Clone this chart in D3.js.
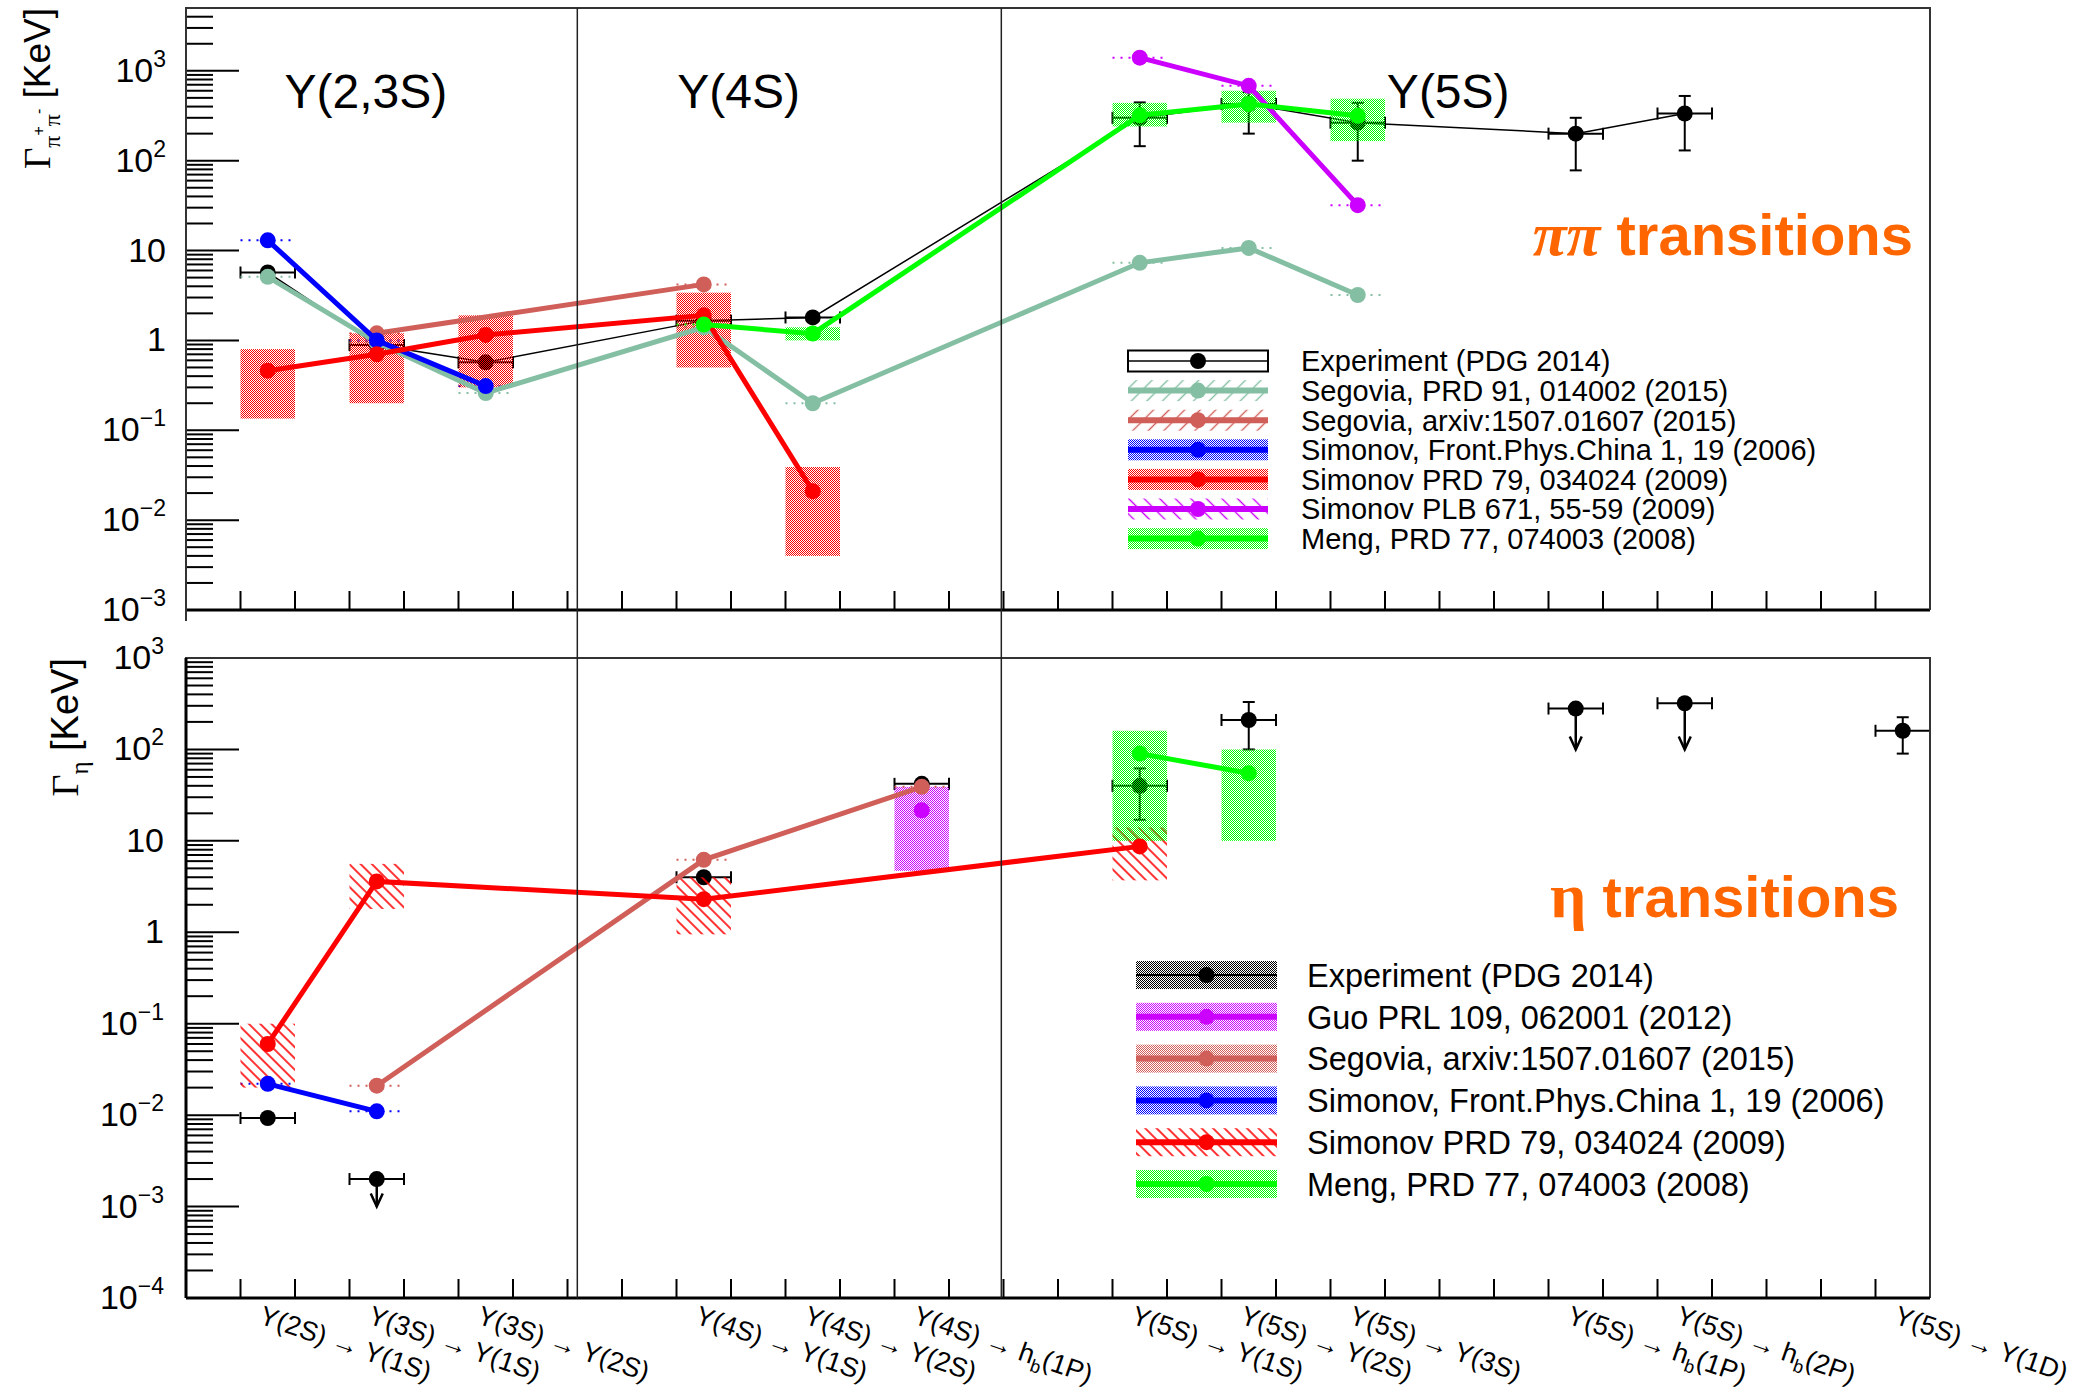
<!DOCTYPE html>
<html>
<head>
<meta charset="utf-8">
<script src="https://cdn.jsdelivr.net/npm/d3@7"></script>
<style>
  body { margin: 0; background: #fff; }
  text { font-family: "Liberation Sans", Arial, Helvetica, sans-serif; }
</style>
</head>
<body>
<svg id="chart" width="2084" height="1391"></svg>
<script>
// ---- data ----
// bin index of every transition on the x axis
const catPos  = [0, 1, 2, 4, 5, 6, 8, 9, 10, 12, 13, 15];
const catFrom = ["Y(2S)", "Y(3S)", "Y(3S)", "Y(4S)", "Y(4S)", "Y(4S)", "Y(5S)", "Y(5S)", "Y(5S)", "Y(5S)", "Y(5S)", "Y(5S)"];
const catTo   = ["Y(1S)", "Y(1S)", "Y(2S)", "Y(1S)", "Y(2S)", "h_b(1P)", "Y(1S)", "Y(2S)", "Y(3S)", "h_b(1P)", "h_b(2P)", "Y(1D)"];
const groupNames = ["Y(2,3S)", "Y(4S)", "Y(5S)"];

// [bin, value, low, high]  (keV)
const expPP = [[0, 5.7, 5.5, 5.9], [1, 0.89, 0.85, 0.93], [2, 0.57, 0.53, 0.61], [4, 1.66, 1.5, 1.8],
  [5, 1.8, 1.7, 1.9], [8, 300, 145, 445], [9, 426, 200, 580], [10, 265, 100, 440],
  [12, 200, 78, 300], [13, 335, 130, 525]];
const segoviaPRD_pp = [[0, 5.1], [1, 0.95], [2, 0.26], [4, 1.4], [5, 0.2], [8, 7.3], [9, 10.7], [10, 3.2]];
const segoviaArx_pp = [[1, 1.2], [4, 4.2]];
const simonovFP_pp  = [[0, 13], [1, 1.0], [2, 0.31]];
const simonovPRD_pp = [[0, 0.46, 0.135, 0.8], [1, 0.7, 0.2, 1.2], [2, 1.15, 0.3, 1.9], [4, 1.9, 0.5, 3.4], [5, 0.021, 0.004, 0.039]];
const simonovPLB_pp = [[8, 1400], [9, 680], [10, 32]];
const meng_pp       = [[4, 1.5], [5, 1.19, 1.0, 1.4], [8, 320, 240, 440], [9, 427, 265, 600], [10, 316, 165, 490]];

const expEta       = [[0, 0.0093, 0.0085, 0.0101], [4, 4.0, 3.5, 4.6], [6, 42, 40, 44], [8, 40, 17, 62], [9, 210, 100, 330], [15, 160, 90, 225]];
const expEtaLimits = [[1, 0.002, 0.001], [12, 280, 100], [13, 320, 100]]; // [bin, upper limit, arrow tip]
const guo_eta        = [[6, 21.6, 4.7, 39]];
const segoviaArx_eta = [[1, 0.021], [4, 6.2], [6, 39]];
const simonovFP_eta  = [[0, 0.022], [1, 0.011]];
const simonovPRD_eta = [[0, 0.06, 0.02, 0.1], [1, 3.6, 1.8, 5.6], [4, 2.3, 0.95, 4.0], [8, 8.7, 3.7, 14]];
const meng_eta       = [[8, 90, 10, 160], [9, 55, 10, 100]];

// ---- layout ----
const X0 = 186, X1 = 1930;
const TOP = { y0: 8, y1: 610 }, BOT = { y0: 658, y1: 1298 };
const separators = [2.84, 6.73];
const groupAt = [0.9, 4.32, 10.83];

const teal = "#85bfa3", ired = "#d05f5a", blue = "#0000ff", red = "#ff0000", mag = "#cc00ff", green = "#00ff00";
const serif = '"Liberation Serif", "Times New Roman", serif';

const x = d3.scaleLinear().domain([-0.75, 15.25]).range([X0, X1]);
const yTop = d3.scaleLog().domain([1e-3, 5e3]).range([TOP.y1, TOP.y0]);
const yBot = d3.scaleLog().domain([1e-4, 1e3]).range([BOT.y1, BOT.y0]);

const svg = d3.select('#chart');
const defs = svg.append('defs');

function dots(id, color) {
  const p = defs.append('pattern').attr('id', id).attr('patternUnits', 'userSpaceOnUse')
    .attr('width', 2).attr('height', 2);
  p.append('rect').attr('x', 0).attr('y', 0).attr('width', 1).attr('height', 1).attr('fill', color);
  p.append('rect').attr('x', 1).attr('y', 1).attr('width', 1).attr('height', 1).attr('fill', color);
}
function hatch(id, color, angle, gap, w) {
  const p = defs.append('pattern').attr('id', id).attr('patternUnits', 'userSpaceOnUse')
    .attr('width', gap).attr('height', gap).attr('patternTransform', `rotate(${angle})`);
  p.append('line').attr('x1', gap / 2).attr('x2', gap / 2).attr('y1', 0).attr('y2', gap)
    .attr('stroke', color).attr('stroke-width', w);
}
dots('dRed', red); dots('dGreen', green); dots('dMag', mag); dots('dBlue', blue); dots('dIred', ired); dots('dBlack', '#000');
hatch('hTeal', teal, 45, 11, 1.4); hatch('hIred', ired, 45, 11, 1.4); hatch('hMag', mag, -45, 11, 1.4); hatch('hRed', red, -45, 8, 1.6);

defs.append('clipPath').attr('id', 'clipTop').append('rect')
  .attr('x', X0).attr('y', TOP.y0).attr('width', X1 - X0).attr('height', TOP.y1 - TOP.y0);
defs.append('clipPath').attr('id', 'clipBot').append('rect')
  .attr('x', X0).attr('y', BOT.y0).attr('width', X1 - X0).attr('height', BOT.y1 - BOT.y0);
defs.append('clipPath').attr('id', 'padTop').append('rect')
  .attr('x', 0).attr('y', 0).attr('width', 2084).attr('height', 621);

// ---- helpers ----
function yAxis(g, y, labelX) {
  const [a, b] = y.domain();
  const majors = [], minors = [];
  for (let e = Math.floor(Math.log10(a)); e <= Math.ceil(Math.log10(b)); e++) {
    for (let m = 1; m <= 9; m++) {
      const v = m * Math.pow(10, e);
      if (v < a * 0.999 || v > b * 1.001) continue;
      (m === 1 ? majors : minors).push(v);
    }
  }
  g.selectAll(null).data(minors).enter().append('line')
    .attr('x1', X0).attr('x2', X0 + 27).attr('y1', d => y(d)).attr('y2', d => y(d))
    .attr('stroke', '#000').attr('stroke-width', 2);
  g.selectAll(null).data(majors).enter().append('line')
    .attr('x1', X0).attr('x2', X0 + 53).attr('y1', d => y(d)).attr('y2', d => y(d))
    .attr('stroke', '#000').attr('stroke-width', 2);
  majors.forEach(v => {
    const e = Math.round(Math.log10(v));
    const t = g.append('text').attr('x', labelX).attr('y', y(v) + 11)
      .attr('text-anchor', 'end').attr('font-size', 34).attr('fill', '#000');
    if (e === 0) t.text('1');
    else if (e === 1) t.text('10');
    else {
      t.append('tspan').text('10');
      t.append('tspan').attr('font-size', 23).attr('dy', -15).text(e < 0 ? '\u2212' + (-e) : e);
    }
  });
}

function xAxis(g, yPix) {
  const ticks = d3.range(31).map(m => -0.25 + 0.5 * m);
  g.selectAll(null).data(ticks).enter().append('line')
    .attr('x1', d => x(d)).attr('x2', d => x(d)).attr('y1', yPix).attr('y2', yPix - 19)
    .attr('stroke', '#000').attr('stroke-width', 2);
  g.append('line').attr('x1', X0).attr('x2', X1).attr('y1', yPix).attr('y2', yPix)
    .attr('stroke', '#000').attr('stroke-width', 3);
}

function drawExp(g, y, data, connect) {
  if (connect) {
    g.append('path').datum(data)
      .attr('d', d3.line().x(d => x(d[0])).y(d => y(d[1])))
      .attr('fill', 'none').attr('stroke', '#000').attr('stroke-width', 1.5);
  }
  data.forEach(d => {
    const cx = x(d[0]), cy = y(d[1]);
    const xa = x(d[0] - 0.25), xb = x(d[0] + 0.25);
    g.append('line').attr('x1', xa).attr('x2', xb).attr('y1', cy).attr('y2', cy).attr('stroke', '#000').attr('stroke-width', 2);
    [xa, xb].forEach(xx => g.append('line').attr('x1', xx).attr('x2', xx).attr('y1', cy - 6).attr('y2', cy + 6)
      .attr('stroke', '#000').attr('stroke-width', 2));
    if (d.length > 2 && Math.abs(y(d[2]) - y(d[3])) > 18) {
      const ya = y(d[3]), yb = y(d[2]);
      g.append('line').attr('x1', cx).attr('x2', cx).attr('y1', ya).attr('y2', yb).attr('stroke', '#000').attr('stroke-width', 2);
      [ya, yb].forEach(yy => g.append('line').attr('x1', cx - 6).attr('x2', cx + 6).attr('y1', yy).attr('y2', yy)
        .attr('stroke', '#000').attr('stroke-width', 2));
    }
    g.append('circle').attr('cx', cx).attr('cy', cy).attr('r', 8).attr('fill', '#000');
  });
}

function drawLimits(g, y, data) {
  data.forEach(d => {
    const cx = x(d[0]), cy = y(d[1]), ty = y(d[2]);
    const xa = x(d[0] - 0.25), xb = x(d[0] + 0.25);
    g.append('line').attr('x1', xa).attr('x2', xb).attr('y1', cy).attr('y2', cy).attr('stroke', '#000').attr('stroke-width', 2);
    [xa, xb].forEach(xx => g.append('line').attr('x1', xx).attr('x2', xx).attr('y1', cy - 6).attr('y2', cy + 6)
      .attr('stroke', '#000').attr('stroke-width', 2));
    g.append('line').attr('x1', cx).attr('x2', cx).attr('y1', cy).attr('y2', ty).attr('stroke', '#000').attr('stroke-width', 2.5);
    g.append('polyline').attr('points', `${cx - 6},${ty - 13} ${cx},${ty} ${cx + 6},${ty - 13}`)
      .attr('fill', 'none').attr('stroke', '#000').attr('stroke-width', 2.5);
    g.append('circle').attr('cx', cx).attr('cy', cy).attr('r', 8).attr('fill', '#000');
  });
}

function drawBands(g, y, s) {
  s.data.forEach(d => {
    const xa = x(d[0] - 0.25), xb = x(d[0] + 0.25);
    if (d.length > 2 && d[3] > d[2]) {
      g.append('rect').attr('x', xa).attr('width', xb - xa)
        .attr('y', y(d[3])).attr('height', y(d[2]) - y(d[3]))
        .attr('fill', `url(#${s.fill})`);
    } else {
      g.append('line').attr('x1', xa).attr('x2', xb).attr('y1', y(d[1])).attr('y2', y(d[1]))
        .attr('stroke', s.color).attr('stroke-width', 2).attr('stroke-dasharray', '2,6');
    }
  });
}

function drawModel(g, y, s) {
  if (s.data.length > 1) {
    g.append('path').datum(s.data)
      .attr('d', d3.line().x(d => x(d[0])).y(d => y(d[1])))
      .attr('fill', 'none').attr('stroke', s.color).attr('stroke-width', 5);
  }
  g.selectAll(null).data(s.data).enter().append('circle')
    .attr('cx', d => x(d[0])).attr('cy', d => y(d[1])).attr('r', 8).attr('fill', s.color);
}

function legend(items, o) {
  const g = svg.append('g');
  items.forEach((it, i) => {
    const cy = o.y + i * o.dy;
    const xm = o.x + o.w / 2;
    if (it.open) {
      g.append('rect').attr('x', o.x).attr('y', cy - o.h / 2).attr('width', o.w).attr('height', o.h)
        .attr('fill', 'none').attr('stroke', '#000').attr('stroke-width', 2);
    } else {
      g.append('rect').attr('x', o.x).attr('y', cy - o.h / 2).attr('width', o.w).attr('height', o.h)
        .attr('fill', `url(#${it.fill})`);
    }
    g.append('line').attr('x1', o.x).attr('x2', o.x + o.w).attr('y1', cy).attr('y2', cy)
      .attr('stroke', it.color).attr('stroke-width', it.lw);
    g.append('circle').attr('cx', xm).attr('cy', cy).attr('r', 8).attr('fill', it.color);
    g.append('text').attr('x', o.tx).attr('y', cy + o.fs * 0.36).attr('font-size', o.fs)
      .attr('fill', '#000').text(it.label);
  });
}

// ---- series ----
const modelsPP = [
  { label: 'Segovia, PRD 91, 014002 (2015)', color: teal, fill: 'hTeal', data: segoviaPRD_pp },
  { label: 'Segovia, arxiv:1507.01607 (2015)', color: ired, fill: 'hIred', data: segoviaArx_pp },
  { label: 'Simonov, Front.Phys.China 1, 19 (2006)', color: blue, fill: 'dBlue', data: simonovFP_pp },
  { label: 'Simonov PRD 79, 034024 (2009)', color: red, fill: 'dRed', data: simonovPRD_pp },
  { label: 'Simonov PLB 671, 55-59 (2009)', color: mag, fill: 'hMag', data: simonovPLB_pp },
  { label: 'Meng, PRD 77, 074003 (2008)', color: green, fill: 'dGreen', data: meng_pp }
];
const modelsEta = [
  { label: 'Guo PRL 109, 062001 (2012)', color: mag, fill: 'dMag', data: guo_eta },
  { label: 'Segovia, arxiv:1507.01607 (2015)', color: ired, fill: 'dIred', data: segoviaArx_eta },
  { label: 'Simonov, Front.Phys.China 1, 19 (2006)', color: blue, fill: 'dBlue', data: simonovFP_eta },
  { label: 'Simonov PRD 79, 034024 (2009)', color: red, fill: 'hRed', data: simonovPRD_eta },
  { label: 'Meng, PRD 77, 074003 (2008)', color: green, fill: 'dGreen', data: meng_eta }
];

// ---- top panel: pi pi transitions ----
const padTop = svg.append('g').attr('clip-path', 'url(#padTop)');
yAxis(padTop, yTop, 166);
const plotTop = padTop.append('g').attr('clip-path', 'url(#clipTop)');
drawExp(plotTop, yTop, expPP, true);
modelsPP.forEach(s => drawBands(plotTop, yTop, s));
modelsPP.forEach(s => drawModel(plotTop, yTop, s));
xAxis(padTop, TOP.y1);
padTop.append('path')
  .attr('d', `M${X0},${BOT.y0} V${TOP.y0} H${X1} V${TOP.y1}`)
  .attr('fill', 'none').attr('stroke', '#333').attr('stroke-width', 2);

// ---- bottom panel: eta transitions ----
const padBot = svg.append('g');
yAxis(padBot, yBot, 164);
const plotBot = padBot.append('g').attr('clip-path', 'url(#clipBot)');
drawExp(plotBot, yBot, expEta, false);
drawLimits(plotBot, yBot, expEtaLimits);
modelsEta.forEach(s => drawBands(plotBot, yBot, s));
modelsEta.forEach(s => drawModel(plotBot, yBot, s));
padBot.append('path')
  .attr('d', `M${X0},${BOT.y1} V${BOT.y0} H${X1} V${BOT.y1}`)
  .attr('fill', 'none').attr('stroke', '#333').attr('stroke-width', 2);
xAxis(padBot, BOT.y1);
padBot.append('line').attr('x1', X0).attr('x2', X0).attr('y1', BOT.y0).attr('y2', BOT.y1)
  .attr('stroke', '#000').attr('stroke-width', 3);

// separators between Y(2,3S), Y(4S) and Y(5S)
svg.selectAll(null).data(separators).enter().append('line')
  .attr('x1', d => x(d)).attr('x2', d => x(d)).attr('y1', TOP.y0).attr('y2', BOT.y1)
  .attr('stroke', '#222').attr('stroke-width', 1.5);

// group labels
svg.selectAll(null).data(groupNames).enter().append('text')
  .attr('x', (d, i) => x(groupAt[i])).attr('y', 108)
  .attr('text-anchor', 'middle').attr('font-size', 48).attr('fill', '#000').text(d => d);

// transition labels
catPos.forEach((k, i) => {
  const t = svg.append('text')
    .attr('transform', `translate(${x(k) - 10},1323) rotate(19)`)
    .attr('font-size', 27).attr('fill', '#000');
  const part = (s) => {
    if (s.startsWith('h_b')) {
      t.append('tspan').text('h');
      t.append('tspan').attr('font-size', 18).attr('dy', 7).text('b');
      t.append('tspan').attr('dy', -7).text(s.slice(3));
    } else t.append('tspan').text(s);
  };
  part(catFrom[i]);
  t.append('tspan').text(' \u2192 ');
  part(catTo[i]);
});

// y titles
const tTop = svg.append('text').attr('transform', 'translate(50,8) rotate(-90)')
  .attr('text-anchor', 'end').attr('font-size', 37).attr('fill', '#000');
tTop.append('tspan').attr('font-family', serif).text('\u0393');
tTop.append('tspan').attr('font-family', serif).attr('font-size', 24).attr('dy', 10).text('\u03c0');
tTop.append('tspan').attr('font-size', 16).attr('dy', -16).text('+');
tTop.append('tspan').attr('font-family', serif).attr('font-size', 24).attr('dy', 16).text('\u03c0');
tTop.append('tspan').attr('font-size', 16).attr('dy', -16).text('-');
tTop.append('tspan').attr('dy', 6).text('  [KeV]');

const tBot = svg.append('text').attr('transform', `translate(78,${BOT.y0}) rotate(-90)`)
  .attr('text-anchor', 'end').attr('font-size', 38).attr('fill', '#000');
tBot.append('tspan').attr('font-family', serif).text('\u0393');
tBot.append('tspan').attr('font-family', serif).attr('font-size', 25).attr('dy', 10).text('\u03b7');
tBot.append('tspan').attr('dy', -10).text(' [KeV]');

// panel tags
const tag1 = svg.append('text').attr('x', 1913).attr('y', 255).attr('text-anchor', 'end')
  .attr('fill', '#ff6600').attr('font-size', 58).attr('font-weight', 'bold');
tag1.append('tspan').attr('font-family', serif)
  .attr('font-style', 'italic').attr('font-size', 62).text('\u03c0\u03c0');
tag1.append('tspan').text(' transitions');

const tag2 = svg.append('text').attr('x', 1899).attr('y', 917).attr('text-anchor', 'end')
  .attr('fill', '#ff6600').attr('font-size', 58).attr('font-weight', 'bold');
tag2.append('tspan').attr('font-family', serif).attr('font-size', 64).text('\u03b7');
tag2.append('tspan').text(' transitions');

// legends
legend([{ label: 'Experiment (PDG 2014)', color: '#000', open: true, lw: 1.5 }]
  .concat(modelsPP.map(s => ({ label: s.label, color: s.color, fill: s.fill, lw: 6 }))),
  { x: 1128, w: 140, h: 21, y: 361, dy: 29.6, tx: 1301, fs: 29 });

legend([{ label: 'Experiment (PDG 2014)', color: '#000', fill: 'dBlack', lw: 2 }]
  .concat(modelsEta.map(s => ({ label: s.label, color: s.color, fill: s.fill, lw: 6 }))),
  { x: 1136, w: 141, h: 28, y: 975, dy: 41.8, tx: 1307, fs: 32.5 });
</script>
</body>
</html>
